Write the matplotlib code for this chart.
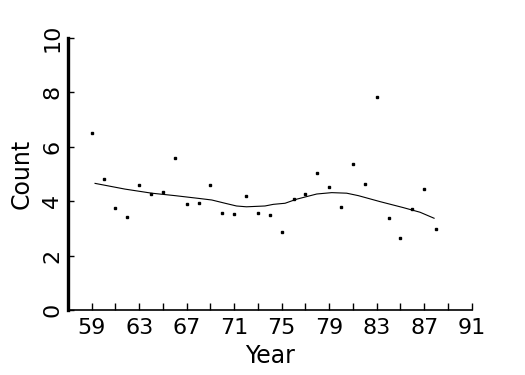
import matplotlib
matplotlib.use("Agg")
import matplotlib.pyplot as plt
import numpy as np

years = list(range(59, 89))
counts = [6.50, 4.81, 3.73, 3.43, 4.59, 4.26, 4.35, 5.57, 3.88, 3.92,
          4.59, 3.55, 3.53, 4.19, 3.55, 3.48, 2.88, 4.08, 4.26, 5.03,
          4.50, 3.78, 5.36, 4.63, 7.82, 3.37, 2.66, 3.71, 4.46, 2.97]

line_years = [59.28, 61.80, 64.05, 66.01, 67.98, 69.11, 70.23, 71.19, 72.03,
              73.59, 74.29, 75.28, 76.26, 77.95, 79.21, 80.47, 81.45, 83.28,
              85.24, 86.65, 87.83]
line_counts = [4.65, 4.44, 4.29, 4.20, 4.10, 4.04, 3.92, 3.82, 3.79,
               3.82, 3.88, 3.92, 4.07, 4.26, 4.31, 4.29, 4.20, 3.98,
               3.76, 3.59, 3.37]

x_ticks = list(range(59, 92, 2))
x_labels = ["59", "63", "67", "71", "75", "79", "83", "87", "91"]
y_ticks = [0, 2, 4, 6, 8, 10]

fig = plt.figure(figsize=(5.25, 3.75), dpi=100)
ax = fig.add_axes([0.1295, 0.1733, 0.769, 0.7262])

ax.plot(years, counts, linestyle="none", marker="s", markersize=2.0,
        color="black")
ax.plot(line_years, line_counts, color="black", linewidth=0.8)

ax.set_xlim(57, 91)
ax.set_ylim(0, 10)

ax.set_xticks(x_ticks)
ax.set_xticklabels([str(t) if str(t) in x_labels else "" for t in x_ticks])
ax.set_yticks(y_ticks)
ax.set_yticklabels([str(t) for t in y_ticks], rotation=90, va="center")

ax.tick_params(axis="x", direction="in", length=5, width=1, pad=6,
               labelsize=16)
ax.tick_params(axis="y", direction="in", length=4, width=1, pad=4,
               labelsize=16)

for s in ["top", "right"]:
    ax.spines[s].set_visible(False)
ax.spines["left"].set_linewidth(2.4)
ax.spines["bottom"].set_linewidth(1.2)

ax.set_xlabel("Year", fontsize=17, labelpad=4)
ax.set_ylabel("Count", fontsize=17, labelpad=6)

fig.savefig("out.png", dpi=100)
